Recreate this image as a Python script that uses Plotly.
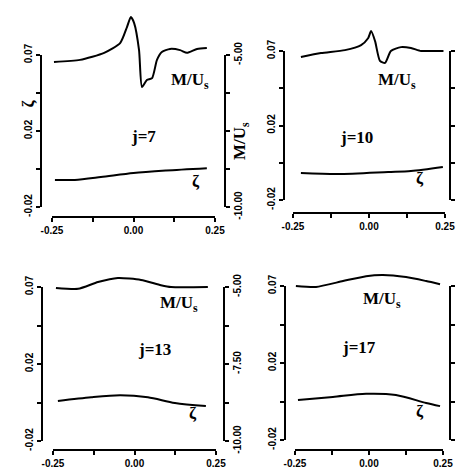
import plotly.graph_objects as go

W, H = 465, 467

# ---------------- data ----------------
panel_labels = ["j=7", "j=10", "j=13", "j=17"]

x_ticks = [-0.25, -0.125, 0.0, 0.125, 0.25]
x_ticktext = ["-0.25", " ", "0.00", " ", "0.25"]
zeta_ticks = [-0.03, -0.005, 0.02, 0.045, 0.07]
zeta_ticktext = ["-0.02", " ", "0.02", " ", "0.07"]
mu_ticks = [-10.0, -8.75, -7.5, -6.25, -5.0]
mu_ticktext = ["-10.00", " ", "-7.50", " ", "-5.00"]
mu_ticktext_first = ["-10.00", " ", " ", " ", "-5.00"]

p1_mu_x = [-0.244, -0.164, -0.090, -0.041, -0.020, -0.008, 0.002, 0.017, 0.026,
           0.041, 0.057, 0.072, 0.087, 0.112, 0.143, 0.164, 0.195, 0.225]
p1_mu_y = [-5.23, -5.16, -4.93, -4.61, -4.08, -3.75, -3.95, -4.84, -6.05,
           -5.82, -5.76, -5.16, -4.90, -4.80, -4.84, -4.93, -4.80, -4.77]
p1_zeta_x = [-0.241, -0.180, -0.100, 0.000, 0.100, 0.225]
p1_zeta_y = [-0.0122, -0.0122, -0.0103, -0.0076, -0.0060, -0.0045]

p2_mu_x = [-0.224, -0.158, -0.079, -0.026, -0.003, 0.007, 0.020, 0.036, 0.053,
           0.072, 0.105, 0.138, 0.171, 0.204, 0.245]
p2_mu_y = [-5.20, -5.07, -4.97, -4.80, -4.57, -4.33, -4.67, -5.33, -5.40,
           -5.00, -4.87, -4.90, -5.00, -5.00, -5.00]
p2_zeta_x = [-0.224, -0.102, 0.063, 0.138, 0.243]
p2_zeta_y = [-0.0119, -0.0126, -0.0112, -0.0105, -0.0078]

p3_mu_x = [-0.241, -0.173, -0.112, -0.051, 0.020, 0.081, 0.112, 0.225]
p3_mu_y = [-5.03, -5.06, -4.84, -4.71, -4.77, -4.94, -5.00, -5.00]
p3_zeta_x = [-0.235, -0.133, -0.044, 0.041, 0.124, 0.219]
p3_zeta_y = [-0.0040, -0.0016, -0.0003, -0.0016, -0.0053, -0.0073]

p4_mu_x = [-0.247, -0.179, -0.088, -0.010, 0.047, 0.125, 0.193, 0.240]
p4_mu_y = [-5.00, -5.03, -4.84, -4.68, -4.64, -4.71, -4.84, -4.94]
p4_zeta_x = [-0.240, -0.122, -0.010, 0.091, 0.193, 0.240]
p4_zeta_y = [-0.0040, -0.0020, 0.0000, -0.0008, -0.0060, -0.0080]

mu_series = [(p1_mu_x, p1_mu_y), (p2_mu_x, p2_mu_y), (p3_mu_x, p3_mu_y), (p4_mu_x, p4_mu_y)]
zeta_series = [(p1_zeta_x, p1_zeta_y), (p2_zeta_x, p2_zeta_y), (p3_zeta_x, p3_zeta_y), (p4_zeta_x, p4_zeta_y)]

# ---------------- layout geometry (pixels) ----------------
# x0, x1, xline_y, left_x, ytop, ybot, right_x, panel_top
geom = [
    (44, 207, 208, 34, 47, 199, 216, 0),
    (285, 437, 204, 277, 43, 192, 441, 0),
    (45, 208, 441, 35, 279, 433, 215, 233),
    (287, 435, 441, 278, 278, 432, 441, 233),
]
# label positions (px): M/Us, j=, zeta
label_pos = [
    ((182, 60), (121, 117), (188, 174)),
    ((410, 60), (367, 118), (418, 170)),
    ((171, 296), (128, 353), (185, 417)),
    ((395, 292), (370, 351), (418, 415)),
]

def px(x):
    return x / W

def py(y):
    return 1 - y / H

def aid(letter, n):
    return letter if n == 1 else f"{letter}{n}"

def akey(letter, n):
    return f"{letter}axis" if n == 1 else f"{letter}axis{n}"

tickfont = dict(family="Liberation Sans, Arial", size=10, color="black", weight="bold")
labfont = dict(family="Liberation Serif, Times New Roman", size=17, color="black", weight="bold")

fig = go.Figure()
layout = dict(template="none", width=W, height=H, margin=dict(l=0, r=0, t=0, b=0, pad=0),
              paper_bgcolor="white", plot_bgcolor="rgba(0,0,0,0)", showlegend=False)
annotations = []

def vis_axis(**kw):
    d = dict(showline=True, linewidth=2, linecolor="black", ticks="outside",
             ticklen=4, tickwidth=2, tickcolor="black", showgrid=False,
             zeroline=False, tickfont=tickfont, automargin=False)
    d.update(kw)
    return d

def hid_axis(**kw):
    d = dict(visible=False, automargin=False, showgrid=False, zeroline=False)
    d.update(kw)
    return d

for i in range(4):
    x0, x1, xl, lx, yt, yb, rx, ptop = geom[i]
    nA, nL, nR = 3 * i + 1, 3 * i + 2, 3 * i + 3
    scale = (yb - yt) / 5.0
    xs = 0.5 / (x1 - x0)
    # hidden M/Us axis: bottom of its domain is the x-axis line
    layout[akey("y", nA)] = hid_axis(domain=[py(xl), py(ptop)],
                                     range=[-5 - (xl - yt) / scale, -5 + (yt - ptop) / scale],
                                     anchor=aid("x", nA))
    layout[akey("x", nA)] = vis_axis(domain=[px(x0), px(x1)], range=[-0.25, 0.25],
                                     anchor=aid("y", nA), tickvals=x_ticks,
                                     ticktext=x_ticktext)
    # left zeta axis
    layout[akey("x", nL)] = hid_axis(domain=[px(lx), px(x1)],
                                     range=[-0.25 - (x0 - lx) * xs, 0.25],
                                     anchor=aid("y", nL))
    layout[akey("y", nL)] = vis_axis(domain=[py(yb), py(yt)], range=[-0.03, 0.07],
                                     anchor=aid("x", nL), side="left",
                                     tickvals=zeta_ticks, ticktext=zeta_ticktext,
                                     tickangle=-90)
    # right M/Us axis
    layout[akey("x", nR)] = hid_axis(domain=[px(x0), px(rx)],
                                     range=[-0.25, 0.25 + (rx - x1) * xs],
                                     anchor=aid("y", nR))
    layout[akey("y", nR)] = vis_axis(domain=[py(yb), py(yt)], range=[-10, -5],
                                     anchor=aid("x", nR), side="right",
                                     tickvals=mu_ticks,
                                     ticktext=mu_ticktext_first if i == 0 else mu_ticktext,
                                     tickangle=-90)

    mx, my = mu_series[i]
    zx, zy = zeta_series[i]
    fig.add_trace(go.Scatter(x=mx, y=my, xaxis=aid("x", nA), yaxis=aid("y", nA),
                             mode="lines",
                             line=dict(color="black", width=2, shape="spline", smoothing=0.6)))
    fig.add_trace(go.Scatter(x=zx, y=zy, xaxis=aid("x", nL), yaxis=aid("y", nL),
                             mode="lines",
                             line=dict(color="black", width=2, shape="spline", smoothing=0.8)))
    # empty trace so the right-axis subplot is registered
    fig.add_trace(go.Scatter(x=[None], y=[None], xaxis=aid("x", nR), yaxis=aid("y", nR),
                             mode="lines"))

    (mux, muy), (jx, jy), (zxp, zyp) = label_pos[i]
    annotations.append(dict(x=px(mux), y=py(muy), xref="paper", yref="paper",
                            text="M/U<sub>s</sub>", showarrow=False, font=labfont))
    annotations.append(dict(x=px(jx), y=py(jy), xref="paper", yref="paper",
                            text=panel_labels[i], showarrow=False, font=labfont))
    annotations.append(dict(x=px(zxp), y=py(zyp), xref="paper", yref="paper",
                            text="ζ", showarrow=False, font=labfont))

# axis titles (only first panel)
annotations.append(dict(x=px(8), y=py(90), xref="paper", yref="paper", text="ζ",
                        showarrow=False, textangle=-90, font=labfont))
annotations.append(dict(x=px(233), y=py(112), xref="paper", yref="paper",
                        text="M/U<sub>s</sub>", showarrow=False, textangle=-90,
                        font=labfont))

layout["annotations"] = annotations
fig.update_layout(**layout)
fig.write_html("out.html")
